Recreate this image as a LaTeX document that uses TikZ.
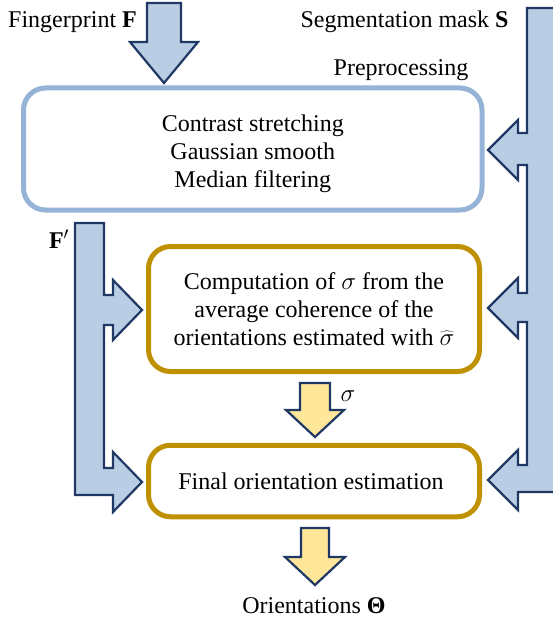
\documentclass[tikz,border=0pt]{standalone}
\usepackage{fontspec}
\setmainfont{Liberation Serif}

\definecolor{arrowfill}{HTML}{B9CDE5}
\definecolor{arrowline}{HTML}{1F3864}
\definecolor{prepline}{HTML}{95B3D7}
\definecolor{stepline}{HTML}{BF9000}
\definecolor{sigmafill}{HTML}{FFE699}

\tikzset{
	procbox/.style={draw=stepline,line width=5pt,rounded corners=22pt,align=center,inner sep=0pt},
	blockarrow/.style={draw=arrowline,line width=2.2pt,line join=miter,fill=arrowfill},
	lbl/.style={inner sep=0pt}
}

% block arrow pointing down: x, top, head start, tip, shaft half width, head half width, fill
\newcommand{\blockdown}[7]{%
	\filldraw[blockarrow,fill=#7] (#1-#5,#2) -- (#1+#5,#2) -- (#1+#5,#3) -- (#1+#6,#3)
		-- (#1,#4) -- (#1-#6,#3) -- (#1-#5,#3) -- cycle;}

\begin{document}
\begin{tikzpicture}[x=1pt,y=-1pt,font=\fontsize{24}{28}\selectfont]
			\useasboundingbox (0,0) rectangle (553,623);

			% inputs
			\node[lbl,anchor=west] (fingerprint) at (8,22) {Fingerprint \textbf{F}};
			\node[lbl] (mask) at (404.5,22) {Segmentation mask \textbf{S}};
			\blockdown{164}{3}{42}{83}{17}{34}{arrowfill}

			% mask bar with its three arrows
			\begin{scope}
				\clip (0,0) rectangle (553,623);
				\filldraw[blockarrow] (527,8) -- (570,8) -- (570,492) -- (518,492) -- (518,510)
					-- (488,480) -- (518,450) -- (518,465) -- (527,465)
					-- (527,322) -- (518,322) -- (518,338) -- (488,308) -- (518,278) -- (518,293) -- (527,293)
					-- (527,165) -- (518,165) -- (518,180) -- (488,150) -- (518,120) -- (518,133) -- (527,133)
					-- cycle;
			\end{scope}

			% preprocessing
			\node[lbl] (preplabel) at (401,70) {Preprocessing};
			\node[procbox,draw=prepline,minimum width=458.5pt,minimum height=122pt] (prep) at (252.75,149) {};
			\node[lbl,align=center] (preptext) at (252.75,154) {
				Contrast stretching\\
				Gaussian smooth\\
				Median filtering
			};

			% F' with its two arrows
			\node[lbl] (fprime) at (59,239) {\textbf{F}$'$};
			\filldraw[blockarrow] (75,223) -- (104,223) -- (104,295) -- (113,295) -- (113,280)
				-- (142,310) -- (113,340) -- (113,325) -- (104,325) -- (104,468) -- (113,468)
				-- (113,452) -- (142,482) -- (113,512) -- (113,495) -- (75,495) -- cycle;

			% sigma
			\node[procbox,minimum width=331pt,minimum height=125pt] (cohere) at (314,309) {
				Computation of $\sigma$ from the\\
				average coherence of the\\
				orientations estimated with $\widehat{\sigma}$
			};
			\blockdown{315}{383}{410}{437}{15}{29}{sigmafill}
			\node[lbl] (sigmalabel) at (348,396) {$\sigma$};

			% final estimation
			\node[procbox,minimum width=331pt,minimum height=71.5pt] (final) at (314,481) {
				Final orientation estimation
			};
			\blockdown{315}{528}{557}{585}{14}{30}{sigmafill}
			\node[lbl] (orient) at (314,606) {Orientations \textbf{Θ}};
		\end{tikzpicture}
\end{document}
